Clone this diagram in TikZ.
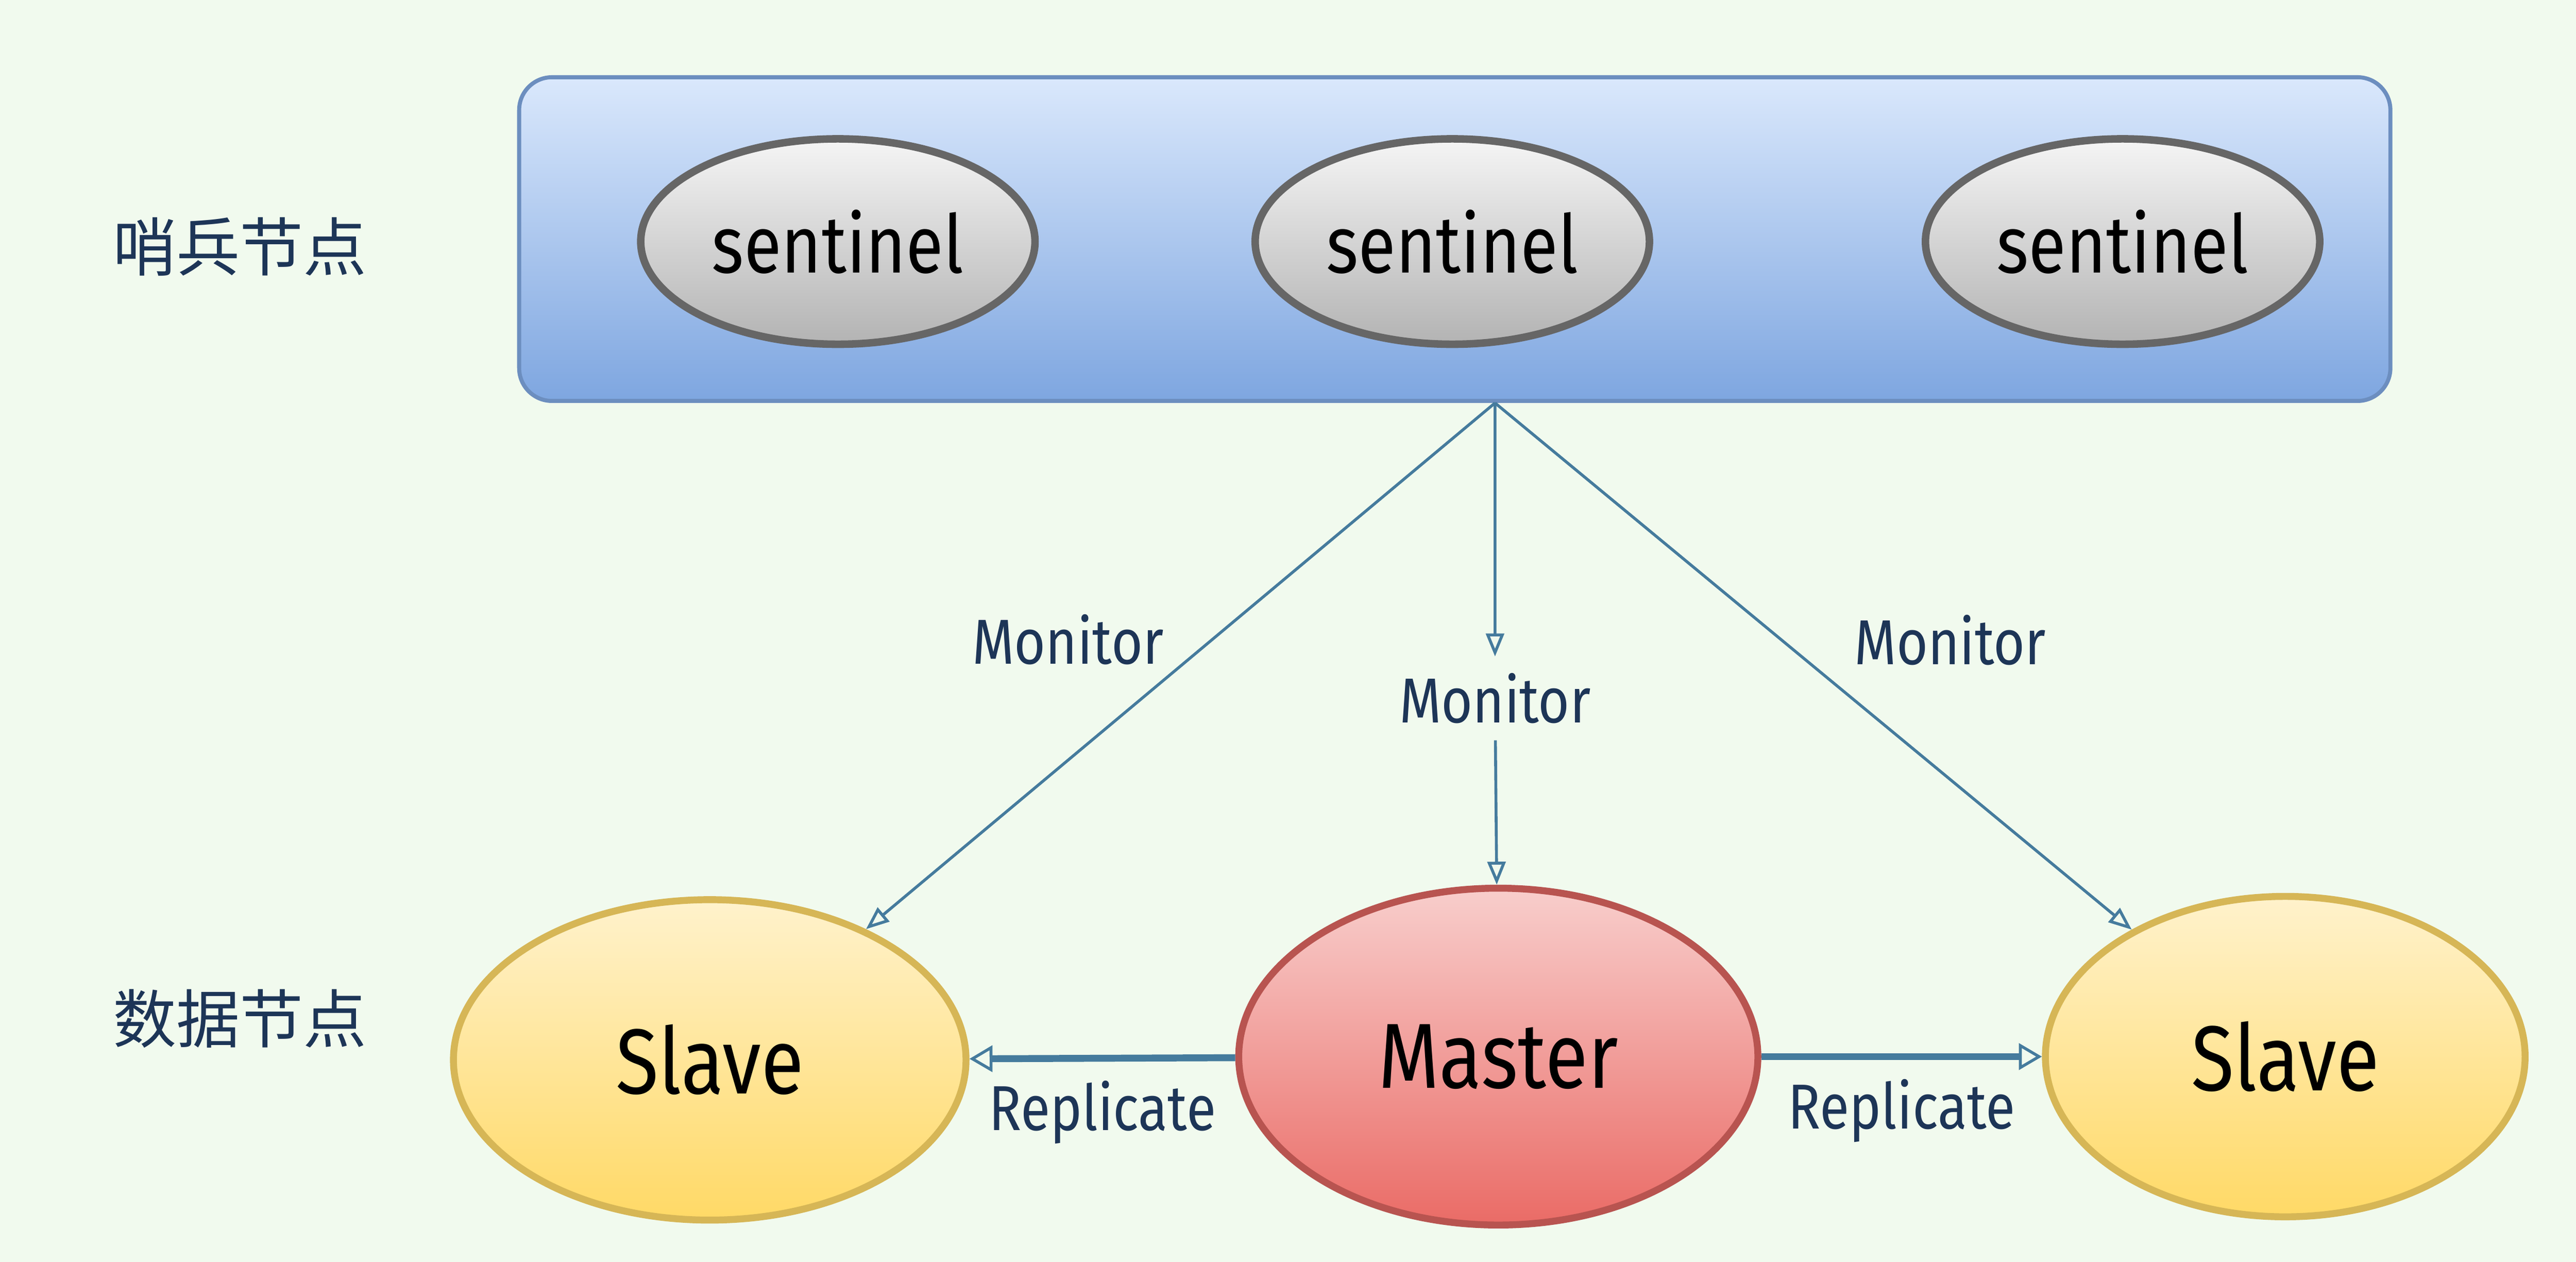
\documentclass[tikz,border=0pt]{standalone}
\usepackage{fontspec}
\setmainfont[FakeStretch=0.85]{Fira Sans}
\newfontfamily\cjk{Noto Sans CJK SC}
\usetikzlibrary{arrows.meta,positioning,shapes.geometric}
\definecolor{bgfill}{HTML}{F1FAEE}
\definecolor{navy}{HTML}{1D3557}
\definecolor{arrline}{HTML}{457B9D}
\definecolor{grptop}{HTML}{DAE8FC}
\definecolor{grpbot}{HTML}{7EA6E0}
\definecolor{grpline}{HTML}{6C8EBF}
\definecolor{senttop}{HTML}{F5F5F5}
\definecolor{sentbot}{HTML}{B3B3B3}
\definecolor{sentline}{HTML}{666666}
\definecolor{slvtop}{HTML}{FFF2CC}
\definecolor{slvbot}{HTML}{FFD966}
\definecolor{slvline}{HTML}{D6B656}
\definecolor{mstop}{HTML}{F8CECC}
\definecolor{msbot}{HTML}{EA6B66}
\definecolor{msline}{HTML}{B85450}

\begin{document}
\begin{tikzpicture}[thick,
  grp/.style={draw=grpline,line width=0.7pt,rounded corners=2mm,top color=grptop,bottom color=grpbot,minimum width=11.39cm,minimum height=1.97cm},
  sent/.style={ellipse,draw=sentline,line width=1.3pt,top color=senttop,bottom color=sentbot,minimum width=2.4cm,minimum height=1.25cm,inner sep=0pt,font=\fontsize{14}{16}\selectfont},
  data/.style={ellipse,line width=1.2pt,inner sep=0pt,font=\fontsize{16}{18}\selectfont},
  slave/.style={data,draw=slvline,top color=slvtop,bottom color=slvbot,minimum height=1.95cm},
  master/.style={data,draw=msline,top color=mstop,bottom color=msbot,minimum width=3.16cm,minimum height=2.05cm},
  lbl/.style={text=navy,inner sep=1pt,font=\fontsize{11}{13}\selectfont},
  side/.style={text=navy,font=\cjk\fontsize{11}{13}\selectfont},
  mon/.style={draw=arrline,line width=0.5pt,-{Triangle[open,length=1.4mm,width=1.1mm]}},
  rep/.style={draw=arrline,line width=1.2pt,-{Triangle[open,line width=0.5pt,length=1.4mm,width=1.6mm]}}
]
  \useasboundingbox (0,0) rectangle (15.68,-7.68);
  \fill[bgfill] (0,0) rectangle (15.68,-7.68);

  % row labels
  \node[side] (lab1) at (1.46,-1.50) {哨兵节点};
  \node[side] (lab2) at (1.46,-6.20) {数据节点};

  % sentinel group
  \node[grp] (sen) at (8.855,-1.455) {};
  \foreach \n/\x in {1/5.10,2/8.84,3/12.92}
    \node[sent] (s\n) at (\x,-1.47) {sentinel};
  \coordinate (tap) at ([xshift=2.45mm]sen.south);

  % data nodes
  \node[slave,minimum width=3.12cm] (sl) at (4.32,-6.45) {Slave};
  \node[master] (ma) at (9.12,-6.43) {Master};
  \node[slave,minimum width=2.92cm] (sr) at (13.91,-6.43) {Slave};

  % monitor
  \draw[mon] (tap) -- (sl) node[lbl,pos=0.45,left=2.5mm] {Monitor};
  \draw[mon] (tap) -- (sr) node[lbl,pos=0.45,right=4mm] {Monitor};
  \node[lbl,inner sep=2.5pt] (mon2) at (9.10,-4.25) {Monitor};
  \draw[mon] (tap) -- (mon2);
  \draw[mon] (mon2) -- (ma);

  % replicate
  \draw[rep] (ma) -- (sl) node[lbl,midway,below=0.8mm] {Replicate};
  \draw[rep] (ma) -- (sr) node[lbl,midway,below=0.8mm] {Replicate};
\end{tikzpicture}
\end{document}
